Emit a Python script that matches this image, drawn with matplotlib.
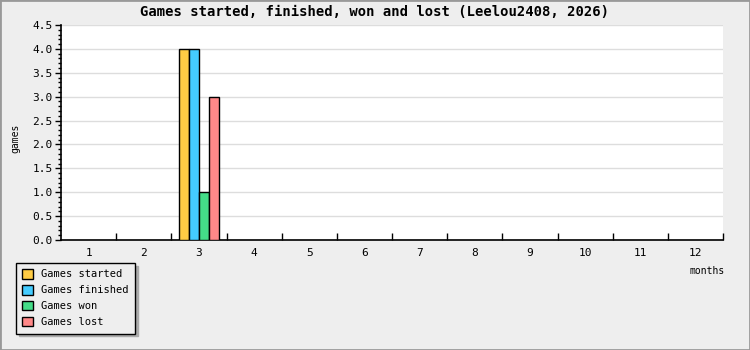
import numpy as np
import matplotlib
matplotlib.use("Agg")
import matplotlib.pyplot as plt
from matplotlib.patches import Rectangle

months = [1, 2, 3, 4, 5, 6, 7, 8, 9, 10, 11, 12]
started = [0, 0, 4, 0, 0, 0, 0, 0, 0, 0, 0, 0]
finished = [0, 0, 4, 0, 0, 0, 0, 0, 0, 0, 0, 0]
won = [0, 0, 1, 0, 0, 0, 0, 0, 0, 0, 0, 0]
lost = [0, 0, 3, 0, 0, 0, 0, 0, 0, 0, 0, 0]
names = ["Games started", "Games finished", "Games won", "Games lost"]
colors = ["#ffcc44", "#44ccff", "#44dd88", "#ff8888"]

plt.rcParams['font.family'] = ['DejaVu Sans Mono']

fig = plt.figure(figsize=(7.5, 3.5), dpi=100, facecolor="#eeeeee")
ax = fig.add_axes([61/750, 1-240/350, 662/750, 215/350])
ax.set_facecolor("white")

x = np.array(months)
w = 0.18
series = [started, finished, won, lost]
for i in range(4):
	vals = np.array(series[i])
	m = vals > 0
	ax.bar(x[m] + (i-1.5)*w, vals[m], width=w, color=colors[i], edgecolor="black", linewidth=1, label=names[i], zorder=3)

ax.set_xlim(0.5, 12.5)
ax.set_ylim(0, 4.5)
ax.set_yticks(np.arange(0, 4.51, 0.5))
ax.set_yticklabels(["%.1f" % v for v in np.arange(0, 4.51, 0.5)], fontsize=8)
ax.set_yticks(np.arange(0, 4.51, 0.1), minor=True)
ax.yaxis.grid(True, color="#dddddd", linewidth=1, zorder=0)
ax.tick_params(axis="y", which="major", direction="out", length=4, width=1, pad=2)
ax.tick_params(axis="y", which="minor", direction="out", length=2, width=1)

ax.set_xticks(np.arange(1.5, 12.6, 1))
ax.set_xticklabels([])
ax.set_xticks(months, minor=True)
ax.set_xticklabels([str(m) for m in months], minor=True, fontsize=8)
ax.tick_params(axis="x", which="major", direction="in", length=5, width=1)
ax.tick_params(axis="x", which="minor", length=0, pad=6)

for s in ["top", "right"]:
	ax.spines[s].set_visible(False)
ax.spines["left"].set_linewidth(1.2)
ax.spines["bottom"].set_linewidth(1.2)

fig.text(0.5, 1-12/350, "Games started, finished, won and lost (Leelou2408, 2026)", ha="center", va="center", fontsize=10, fontweight="bold")
fig.text(15/750, 1-138/350, "games", rotation=90, ha="center", va="center", fontsize=7)
fig.text(725/750, 1-271/350, "months", ha="right", va="center", fontsize=7)

leg = fig.legend(loc="upper left", bbox_to_anchor=(16/750, 1-263/350), borderaxespad=0, fontsize=7.5, frameon=True, fancybox=False, shadow={"color": "#aaaaaa", "alpha": 1}, edgecolor="black", facecolor="#eeeeee", handlelength=1, handleheight=1, borderpad=0.6, labelspacing=0.55, handletextpad=0.8)
leg.get_frame().set_linewidth(1)

fig.patches.append(Rectangle((0, 0), 1, 1, transform=fig.transFigure, fill=False, edgecolor="#999999", linewidth=2))

fig.savefig("out.png", dpi=100, facecolor=fig.get_facecolor())
